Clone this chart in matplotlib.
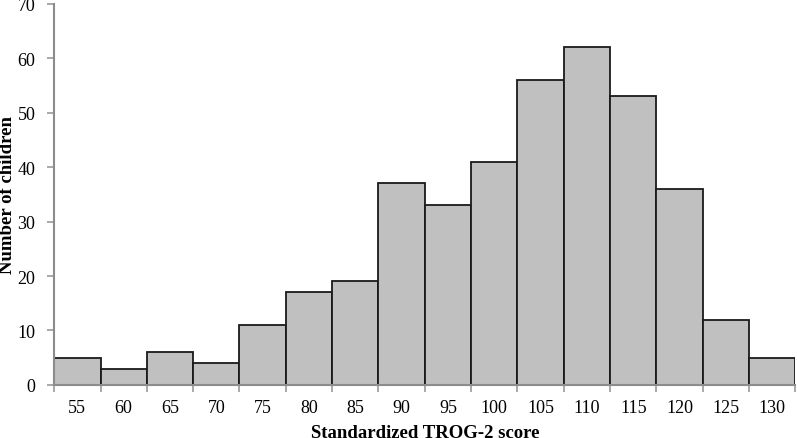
import numpy as np
import matplotlib.pyplot as plt

plt.rcParams['font.family'] = ['Liberation Serif', 'DejaVu Serif']

scores = [55, 60, 65, 70, 75, 80, 85, 90, 95, 100, 105, 110, 115, 120, 125, 130]
counts = [5, 3, 6, 4, 11, 17, 19, 37, 33, 41, 56, 62, 53, 36, 12, 5]

fig = plt.figure(figsize=(7.97, 4.39), dpi=100)
ax = fig.add_axes([0.068, 0.121, 0.93, 0.868])

x = np.arange(len(scores))
ax.bar(x, counts, width=1.0, color='#c0c0c0', edgecolor='#1a1a1a', linewidth=1.3)

ax.set_xlim(-0.5, len(scores) - 0.5)
ax.set_ylim(0, 70)
ax.set_yticks(range(0, 71, 10))
ax.set_xticks(x)
ax.set_xticklabels([str(s) for s in scores])
ax.set_xticks(np.arange(-0.5, len(scores), 1.0), minor=True)
ax.tick_params(axis='x', which='major', length=0, pad=10, labelsize=13)
ax.tick_params(axis='x', which='minor', length=5, color='#999999', width=1.2)
ax.tick_params(axis='y', length=5, color='#999999', width=1.2, labelsize=13, pad=8.5)

for s in ['top', 'right']:
    ax.spines[s].set_visible(False)
for s in ['left', 'bottom']:
    ax.spines[s].set_color('#8c8c8c')
    ax.spines[s].set_linewidth(1.5)

ax.set_xlabel('Standardized TROG-2 score', fontsize=13.5, fontweight='bold', labelpad=6)
ax.set_ylabel('Number of children', fontsize=13.5, fontweight='bold')
ax.yaxis.set_label_coords(-0.052, 0.5)

fig.savefig('out.png', dpi=100)
